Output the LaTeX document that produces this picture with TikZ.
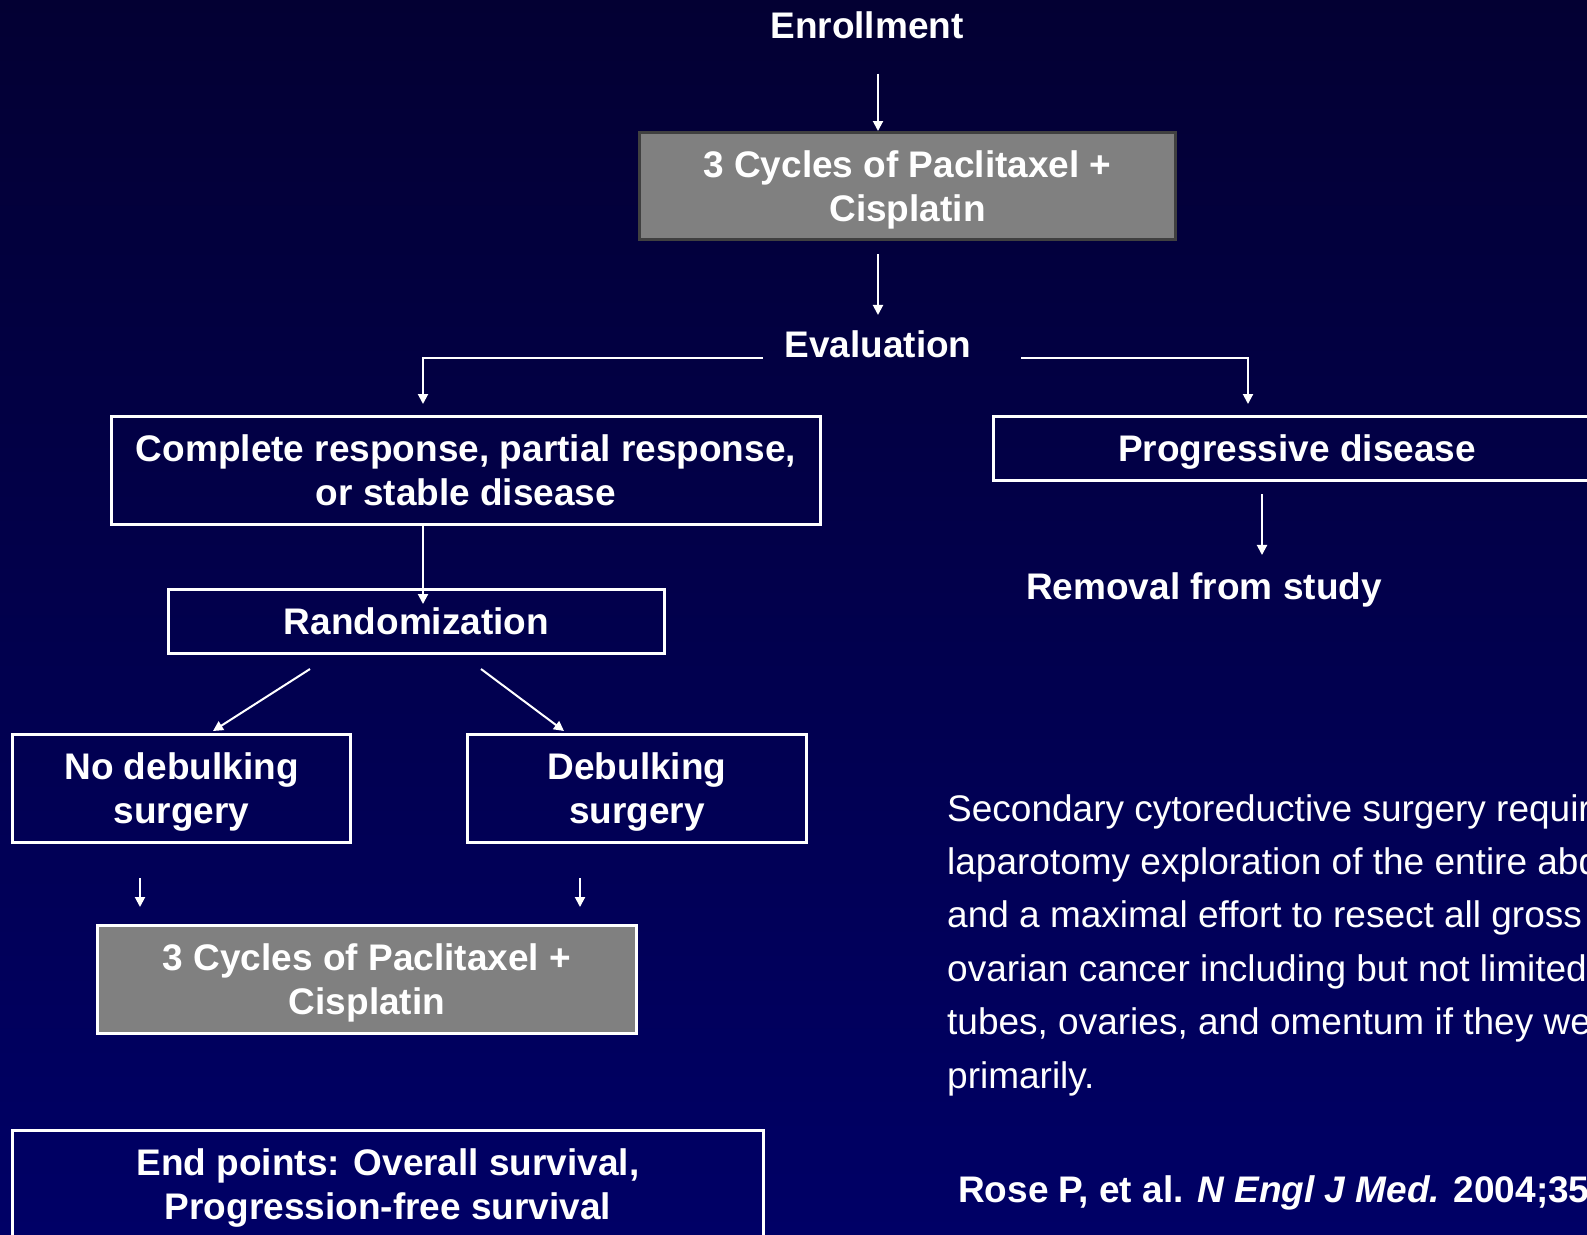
\documentclass[tikz,border=0pt]{standalone}
\usepackage{fontspec}
\setmainfont{Liberation Sans}
\usepackage{tikz}
\usetikzlibrary{arrows.meta,positioning}
\definecolor{navytop}{HTML}{030033}
\definecolor{navybot}{HTML}{000066}
\definecolor{boxgray}{HTML}{808080}
\definecolor{rimgray}{HTML}{404040}

\begin{document}
\begin{tikzpicture}[x=1pt,y=-1pt,
  >={Triangle[width=10pt,length=10pt]},
  lbl/.style={text=white,inner sep=0pt,font=\fontsize{37}{44}\selectfont\bfseries},
  box/.style={lbl,draw=white,line width=3pt,align=center,text depth=0pt},
  graybox/.style={box,fill=boxgray},
  arr/.style={->,white,line width=2pt}]
  \clip (0,0) rectangle (1587,1234);
  \shade[top color=navytop,bottom color=navybot] (0,0) rectangle (1587,1234);

  \node[lbl,anchor=base] (enroll) at (867,38) {Enrollment};
  \node[graybox,draw=rimgray,minimum width=536pt,minimum height=107pt] (cyc1)
       at (907.5,186) {3 Cycles of Paclitaxel +\\Cisplatin};
  \node[lbl,anchor=base] (eval) at (878,357) {Evaluation};
  \node[box,minimum width=709pt,minimum height=108pt] (resp) at (466,470.5)
       {Complete response, partial response,\\or stable disease};
  \node[box,minimum width=608pt,minimum height=64pt] (prog) at (1297,448.5)
       {Progressive disease};
  \node[lbl,anchor=base] (removal) at (1204,599) {Removal from study};
  \node[box,minimum width=496pt,minimum height=64pt] (rand) at (416.5,621.5)
       {Randomization};
  \node[box,minimum width=338pt,minimum height=108pt] (nodeb) at (181.5,788.5)
       {No debulking\\surgery};
  \node[box,minimum width=339pt,minimum height=108pt] (deb) at (637,788.5)
       {Debulking\\surgery};
  \node[graybox,minimum width=539pt,minimum height=108pt] (cyc2) at (367,979.5)
       {3 Cycles of Paclitaxel +\\Cisplatin};
  \node[box,minimum width=751pt,minimum height=108pt] (endp) at (388,1184.5)
       {End points: Overall survival,\\Progression-free survival};

  \node[lbl,font=\fontsize{37}{53.4}\selectfont,align=left,anchor=north west] (note)
       at (947,794) {Secondary cytoreductive surgery required\\
       laparotomy exploration of the entire abdomen\\
       and a maximal effort to resect all gross\\
       ovarian cancer including but not limited\\
       tubes, ovaries, and omentum if they were\\
       primarily.};
  \node[lbl,anchor=base west] (cite) at (958,1202)
       {Rose P, et al. \textit{N Engl J Med.} 2004;351};

  \draw[arr] ([xshift=11pt,yshift=-35pt]enroll.south) -- ([xshift=-29.5pt]cyc1.north);
  \draw[arr] ([xshift=-29.5pt,yshift=-13pt]cyc1.south) -- ([yshift=15pt]eval.north);
  \draw[arr] ([xshift=-21.5pt,yshift=-14pt]eval.west) -| ([xshift=-43pt,yshift=11pt]resp.north);
  \draw[arr] ([xshift=49.5pt,yshift=-14pt]eval.east) -| ([xshift=-49pt,yshift=11pt]prog.north);
  \draw[arr] ([xshift=-43pt]resp.south) -- ([xshift=6.5pt,yshift=-16pt]rand.north);
  \draw[arr] ([xshift=-35pt,yshift=-12pt]prog.south) -- ([xshift=58pt,yshift=17pt]removal.north);
  \draw[arr] ([xshift=-106.5pt,yshift=-14pt]rand.south) -- ([xshift=31.5pt,yshift=2pt]nodeb.north);
  \draw[arr] ([xshift=64.5pt,yshift=-14pt]rand.south) -- ([xshift=-73pt,yshift=2pt]deb.north);
  \draw[arr] ([xshift=-41.5pt,yshift=-34pt]nodeb.south) -- ([xshift=-227pt,yshift=17pt]cyc2.north);
  \draw[arr] ([xshift=-57pt,yshift=-34pt]deb.south) -- ([xshift=213pt,yshift=17pt]cyc2.north);
\end{tikzpicture}
\end{document}
